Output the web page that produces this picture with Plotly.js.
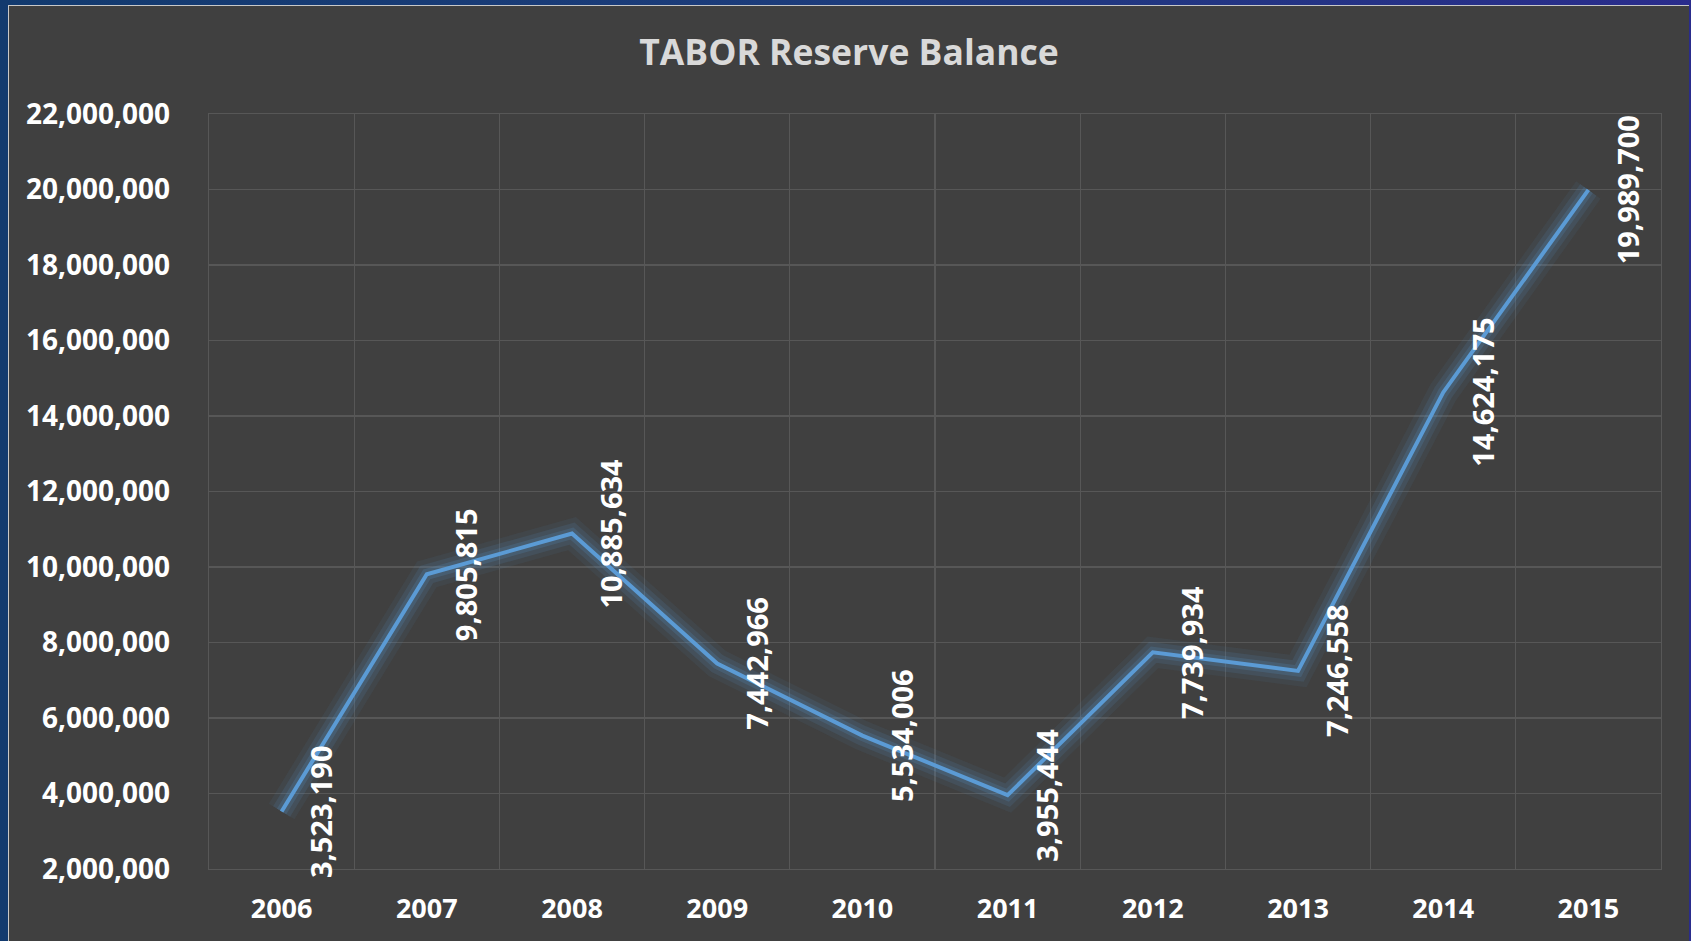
<!DOCTYPE html>
<html>
<head>
<meta charset="utf-8">
<script src="https://cdn.plot.ly/plotly-3.0.1.min.js"></script>
<style>
  html, body { margin:0; padding:0; width:1691px; height:941px; overflow:hidden;
    background: linear-gradient(90deg, #123a6e 0%, #1d3c7c 50%, #2a2c8c 100%); }
  #frame { position:absolute; left:8px; top:5px; width:1681px; height:936px;
    box-sizing:border-box; border:1px solid #c8c8c8; border-right:none; border-bottom:none; background:#404040; }
  #chart { width:1680px; height:935px; }
</style>
</head>
<body>
<div id="frame"><div id="chart"></div></div>
<script>
const years = ['2006','2007','2008','2009','2010','2011','2012','2013','2014','2015'];
const balances = [3523190, 9805815, 10885634, 7442966, 5534006, 3955444, 7739934, 7246558, 14624175, 19989700];
const yTicks = [2000000, 4000000, 6000000, 8000000, 10000000, 12000000, 14000000, 16000000, 18000000, 20000000, 22000000];
const chartTitle = 'TABOR Reserve Balance';

const FONT = '"Open Sans", "Noto Sans", sans-serif';
const fmt = v => v.toLocaleString('en-US');
const GRID = '#575757';

const traces = [
  { x: years, y: balances, type: 'scatter', mode: 'lines', hoverinfo: 'skip',
    line: { color: 'rgba(91,155,213,0.07)', width: 30 }, showlegend: false },
  { x: years, y: balances, type: 'scatter', mode: 'lines', hoverinfo: 'skip',
    line: { color: 'rgba(91,155,213,0.12)', width: 20 }, showlegend: false },
  { x: years, y: balances, type: 'scatter', mode: 'lines', hoverinfo: 'skip',
    line: { color: 'rgba(91,155,213,0.18)', width: 11 }, showlegend: false },
  { x: years, y: balances, type: 'scatter', mode: 'lines',
    line: { color: '#5b9bd5', width: 4 }, showlegend: false }
];

const annotations = years.map((yr, i) => ({
  x: i, y: balances[i], xref: 'x', yref: 'y',
  text: fmt(balances[i]), showarrow: false, textangle: -90,
  xshift: 39, xanchor: 'center', yanchor: 'middle',
  font: { family: FONT, size: 29, color: '#ffffff', weight: 700 }
}));

const layout = {
  width: 1680, height: 935,
  paper_bgcolor: '#404040', plot_bgcolor: '#404040',
  margin: { l: 200, r: 28, t: 108, b: 72 },
  title: { text: chartTitle, x: 0.5, xanchor: 'center', yref: 'container', y: 1 - 47/935, yanchor: 'middle',
           font: { family: FONT, size: 35.5, color: '#d9d9d9', weight: 700 } },
  xaxis: { type: 'category', range: [-0.5, 9.5], tickson: 'boundaries', showgrid: true,
           gridcolor: GRID, gridwidth: 1.3, ticks: '', zeroline: false,
           showline: true, linecolor: GRID, linewidth: 1.3, mirror: true,
           ticklabelstandoff: 15,
           tickfont: { family: FONT, size: 27, color: '#ffffff', weight: 700 } },
  yaxis: { range: [2000000, 22000000], tickvals: yTicks, ticktext: yTicks.map(fmt),
           showgrid: true, gridcolor: GRID, gridwidth: 1.3, zeroline: false,
           showline: true, linecolor: GRID, linewidth: 1.3, mirror: true,
           ticks: '', ticklabelstandoff: 32,
           tickfont: { family: FONT, size: 28, color: '#ffffff', weight: 700 } },
  annotations: annotations
};

Plotly.newPlot('chart', traces, layout, { displayModeBar: false, staticPlot: true });
</script>
</body>
</html>
